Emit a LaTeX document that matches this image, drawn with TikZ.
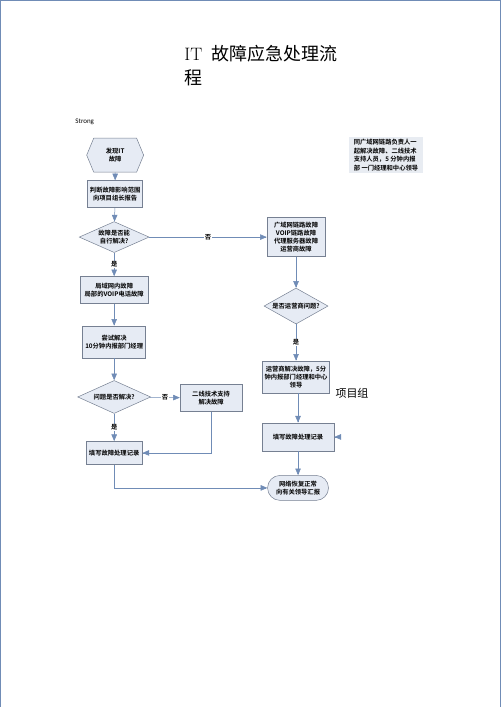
\documentclass[tikz,border=0pt]{standalone}
\usepackage{fontspec}
\newfontfamily\cjk[BoldFont={Noto Sans CJK SC Bold}]{Noto Sans CJK SC}
\newfontfamily\calib{Carlito}
\usetikzlibrary{arrows,positioning,shapes.geometric,shapes.misc,shapes.symbols}

\definecolor{flowline}{RGB}{112,140,182}
\definecolor{boxfill}{RGB}{230,235,244}
\definecolor{boxdraw}{RGB}{118,128,146}
\definecolor{memofill}{RGB}{232,236,242}

\begin{document}
\begin{tikzpicture}[x=1pt,y=-1pt,
    every node/.style={align=center,inner sep=1pt,text=black,font=\cjk\bfseries\fontsize{6.3}{8}\selectfont},
    every path/.style={->,>=triangle 45,draw=flowline,line width=0.5pt},
    box/.style={rectangle,draw=boxdraw,fill=boxfill,line width=0.7pt},
    decide/.style={diamond,draw=boxdraw,fill=boxfill,line width=0.5pt,inner sep=0pt,aspect=2.2},
    hexa/.style={signal,signal to=west and east,signal pointer angle=135,draw=boxdraw,fill=boxfill,line width=0.5pt},
    ending/.style={rounded rectangle,draw=boxdraw,fill=boxfill,line width=0.5pt},
    tag/.style={fill=white,inner sep=1pt}]

\useasboundingbox (0,0) rectangle (500,707);

\node[anchor=north west,align=left,font=\cjk\fontsize{18}{24}\selectfont] (title) at (183,44) {{\rmfamily IT}\enspace 故障应急处理流\\程};
\node[anchor=west,font=\calib\fontsize{7}{8}\selectfont] (strong) at (74,122) {Strong};

% left column
\node[hexa,minimum width=57pt,minimum height=34pt] (find) at (115,155) {发现IT\\故障};
\node[box,minimum width=55pt,minimum height=27pt] (judge) at (115,194) {判断故障影响范围\\向项目组长报告};
\node[decide,minimum width=70pt,minimum height=31pt] (canfix) at (114,237) {故障是否能\\自行解决?};
\node[box,minimum width=68pt,minimum height=27pt] (lan) at (114,290) {局域网内故障\\局部的VOIP电话故障};
\node[box,minimum width=63pt,minimum height=32pt] (tryfix) at (114,342) {尝试解决\\10分钟内报部门经理};
\node[decide,minimum width=73pt,minimum height=33pt] (solved) at (114,397) {问题是否解决?};
\node[box,minimum width=62pt,minimum height=27pt] (second) at (211,398) {二线技术支持\\解决故障};
\node[box,minimum width=56pt,minimum height=23pt] (recordL) at (114,453) {填写故障处理记录};

% right column
\node[box,minimum width=58pt,minimum height=39pt] (wan) at (296,237) {广域网链路故障\\VOIP链路故障\\代理服务器故障\\运营商故障};
\node[decide,minimum width=64pt,minimum height=36pt] (carrier) at (296,306) {是否运营商问题?};
\node[box,minimum width=67pt,minimum height=32pt] (carrierfix) at (296,377) {运营商解决故障，5分\\钟内报部门经理和中心\\领导};
\node[box,minimum width=72pt,minimum height=28pt] (recordR) at (298,437) {填写故障处理记录};
\node[ending,minimum width=63pt,minimum height=25pt] (done) at (298,488) {网络恢复正常\\向有关领导汇报};
\coordinate (stub) at (339,437);

\node[fill=memofill,minimum width=74pt,minimum height=36pt,align=left,font=\cjk\bfseries\fontsize{6.3}{8.5}\selectfont] (memo) at (386,155) {同广域网链路负责人一\\起解决故障、二线技术\\支持人员，5 分钟内报\\部 一门经理和中心领导};
\node[font=\cjk\fontsize{11}{12}\selectfont] (group) at (352,393) {项目组};

% connectors
\draw (find) -- (judge);
\draw (judge) -- (canfix);
\draw (canfix) -- node[tag] {是} (lan);
\draw (lan) -- (tryfix);
\draw (tryfix) -- (solved);
\draw (solved) -- node[tag] {否} (second);
\draw (solved) -- node[tag] {是} (recordL);
\draw (second) |- (recordL);
\draw (recordL) |- (done);
\draw (canfix) -- node[tag] {否} (wan);
\draw (wan.south) -- (carrier.north);
\draw (carrier.south) -- node[tag] {是} (carrier.south |- carrierfix.north);
\draw (carrierfix.south -| recordR.north) -- (recordR.north);
\draw (recordR) -- (done);
\draw (stub) -- (recordR);

\end{tikzpicture}
\end{document}
